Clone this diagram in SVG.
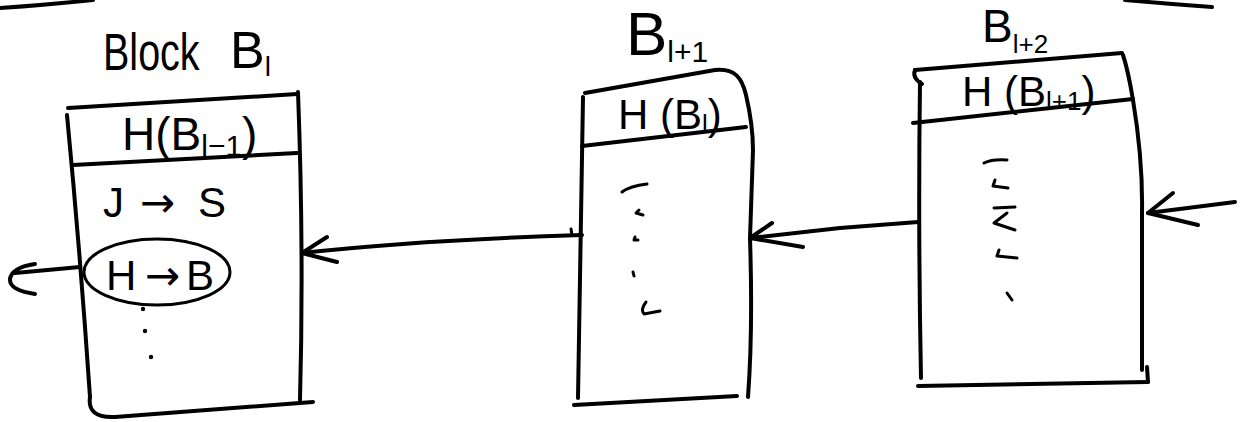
<svg xmlns="http://www.w3.org/2000/svg" width="1241" height="422" viewBox="0 0 1241 422">
  <style>
    .ink { fill: none; stroke: #000; stroke-width: 4; stroke-linecap: round; stroke-linejoin: round; }
    .thin { stroke-width: 3; }
    .lbl { font-family: "Liberation Sans", "DejaVu Sans", sans-serif; fill: #000; }
    .arr { font-family: "DejaVu Sans", sans-serif; }
    .dot { fill: #000; }
  </style>
  <rect width="1241" height="422" fill="#fff"/>

  <!-- stray strokes along the top edge -->
  <path class="ink" d="M0,8 Q45,5 93,0"/>
  <path class="ink" d="M1125,0 Q1170,4 1212,7"/>

  <!-- Block B_l -->
  <g id="block-l">
    <text class="lbl" font-size="52" transform="translate(103,70) scale(0.76,1)">Block</text>
    <text class="lbl" x="230" y="68" font-size="52">B<tspan font-size="28" dy="8">l</tspan></text>
    <path class="ink" d="M68,108 L297,94"/>
    <path class="ink" d="M298,92 Q304,250 300,400"/>
    <path class="ink" d="M73,165 L297,153"/>
    <path class="ink" d="M67,115 Q80,250 90,397"/>
    <path class="ink" d="M90,397 C88,410 95,418 115,417 L313,402"/>
    <text class="lbl" x="122" y="150" font-size="46">H(B<tspan font-size="30" dy="6">l−1</tspan><tspan dy="-6">)</tspan></text>
    <text class="lbl" y="217" font-size="42"><tspan x="103">J</tspan><tspan class="arr" x="140">→</tspan><tspan x="198">S</tspan></text>
    <ellipse class="ink thin" cx="157" cy="272" rx="73" ry="33"/>
    <text class="lbl" y="290" font-size="42"><tspan x="106">H</tspan><tspan class="arr" x="145">→</tspan><tspan x="186">B</tspan></text>
    <circle class="dot" cx="143" cy="309" r="2.2"/>
    <circle class="dot" cx="145" cy="331" r="2.2"/>
    <circle class="dot" cx="151" cy="357" r="2.2"/>
  </g>

  <!-- Block B_{l+1} -->
  <g id="block-l1">
    <text class="lbl" x="626" y="55" font-size="62">B<tspan font-size="30" dy="7">l+1</tspan></text>
    <path class="ink" d="M585,93 L715,70 C735,68 742,78 746,95 Q753,125 753,150 L750,238 Q753,330 748,397"/>
    <path class="ink" d="M583,97 L578,398"/>
    <path class="ink" d="M574,405 L737,396"/>
    <path class="ink" d="M582,146 L746,127"/>
    <text class="lbl" x="618" y="129" font-size="42">H (B<tspan font-size="26" dy="4">l</tspan><tspan dy="-4">)</tspan></text>
    <path class="ink thin" d="M622,192 Q630,186 647,184"/>
    <path class="ink thin" d="M639,210 L636,213 L643,215"/>
    <path class="ink thin" d="M635,237 L634,240 L638,240"/>
    <path class="ink thin" d="M633,272 L634,276"/>
    <path class="ink thin" d="M646,302 Q640,310 644,314 L660,311"/>
  </g>

  <!-- Block B_{l+2} -->
  <g id="block-l2">
    <text class="lbl" x="982" y="42" font-size="46">B<tspan font-size="26" dy="11">l+2</tspan></text>
    <path class="ink" d="M915,70 L1122,53"/>
    <path class="ink" d="M915,70 Q912,78 922,84"/>
    <path class="ink" d="M920,82 Q918,230 921,378"/>
    <path class="ink" d="M1123,55 Q1128,70 1133,100 Q1143,160 1142,213 L1142,370"/>
    <path class="ink" d="M1147,367 L1148,382"/>
    <path class="ink" d="M918,386 L1148,382"/>
    <path class="ink" d="M913,123 L1133,99"/>
    <text class="lbl" x="962" y="106" font-size="42">H (B<tspan font-size="26" dy="4">l+1</tspan><tspan dy="-4">)</tspan></text>
    <path class="ink thin" d="M984,163 Q992,159 1007,160"/>
    <path class="ink thin" d="M995,180 L993,186 L1008,188"/>
    <path class="ink thin" d="M994,208 L1015,207"/>
    <path class="ink thin" d="M1007,213 L994,223 L1015,230"/>
    <path class="ink thin" d="M999,250 L997,256 L1017,258"/>
    <path class="ink thin" d="M1007,293 L1012,300"/>
  </g>

  <!-- hash-pointer connectors -->
  <g id="connectors">
    <path class="ink" d="M80,267 L15,273"/>
    <path class="ink" d="M35,264 C20,266 10,272 10,280 C10,288 22,292 35,294"/>
    <path class="ink" d="M582,235 Q420,240 302,253"/>
    <path class="ink" d="M327,237 L302,253 L337,262"/>
    <path class="ink thin" d="M571,229 L572,235"/>
    <path class="ink" d="M918,222 L840,228 L750,238"/>
    <path class="ink" d="M772,223 L750,238 L803,247"/>
    <path class="ink" d="M1235,202 L1148,213"/>
    <path class="ink" d="M1173,193 L1148,213 L1198,225"/>
  </g>
</svg>
